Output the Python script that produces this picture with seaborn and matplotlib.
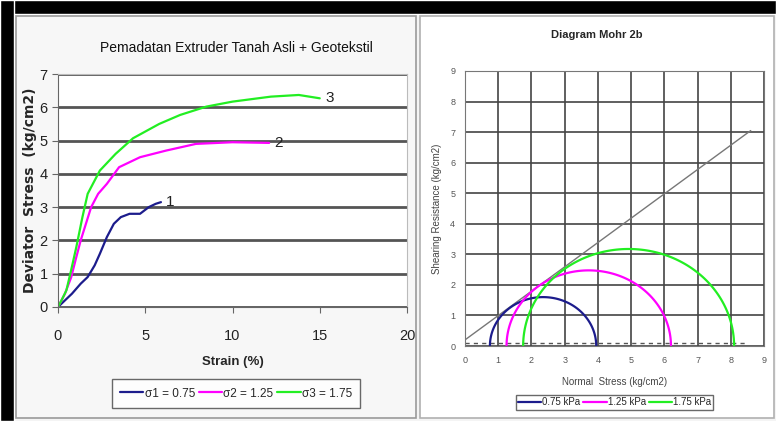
import numpy as np
import pandas as pd
import seaborn as sns
import matplotlib.pyplot as plt
from matplotlib.patches import Rectangle

# ---------------- data: left chart (stress-strain) ----------------
strain_1 = [0, 0.3, 0.8, 1.3, 1.7, 2.1, 2.4, 2.8, 3.2, 3.6, 4.1, 4.7, 5.2, 5.6, 5.9]
stress_1 = [0, 0.15, 0.4, 0.7, 0.9, 1.25, 1.6, 2.1, 2.5, 2.7, 2.8, 2.8, 3.0, 3.1, 3.15]

strain_2 = [0, 0.4, 0.76, 1.0, 1.3, 1.6, 1.9, 2.3, 2.8, 3.5, 4.7, 6.2, 7.9, 10.0, 12.1]
stress_2 = [0, 0.4, 0.9, 1.4, 2.0, 2.5, 3.0, 3.4, 3.7, 4.2, 4.5, 4.7, 4.9, 4.95, 4.93]

strain_3 = [0, 0.2, 0.48, 0.75, 1.05, 1.4, 1.7, 2.4, 3.3, 4.3, 5.8, 7.0, 8.5, 10.0, 12.2, 13.8, 15.0]
stress_3 = [0, 0.2, 0.5, 1.1, 1.8, 2.7, 3.4, 4.1, 4.6, 5.07, 5.5, 5.77, 6.02, 6.17, 6.32, 6.37, 6.27]

curve_names = ["σ1 = 0.75", "σ2 = 1.25", "σ3 = 1.75"]
curve_tags = ["1", "2", "3"]

# ---------------- data: right chart (Mohr circles) ----------------
sigma3 = [0.75, 1.25, 1.75]
sigma1 = [3.95, 6.2, 8.1]
circle_names = ["0.75 kPa", "1.25 kPa", "1.75 kPa"]
envelope_x = [0, 8.6]
envelope_y = [0.2, 7.05]
dash_x = [0, 8.5]
dash_y = [0.1, 0.1]

colors = ["#1c1c8c", "#ff00ff", "#22ee22"]

sns.set_style("white")
plt.rcParams['font.family'] = ['Liberation Sans Narrow', 'Liberation Sans', 'DejaVu Sans']

W, H = 776, 421
fig = plt.figure(figsize=(W / 100, H / 100), dpi=100)
fig.patch.set_facecolor("#f4f4f4")


def px(x0, y0, x1, y1):
    # pixel box -> figure fraction
    return [x0 / W, 1 - y1 / H, (x1 - x0) / W, (y1 - y0) / H]


# frame pieces (behind the axes)
fig.patches.append(Rectangle((0, 1 - 14 / H), 1, 14 / H, transform=fig.transFigure,
                             facecolor="black", zorder=-2))
fig.patches.append(Rectangle((0, 0), 14 / W, 1, transform=fig.transFigure,
                             facecolor="black", zorder=-2))
fig.patches.append(Rectangle((16 / W, 3 / H), 400 / W, 402 / H, transform=fig.transFigure,
                             facecolor="#f7f7f7", edgecolor="#9a9a9a", lw=1.2, zorder=-2))
fig.patches.append(Rectangle((420 / W, 3 / H), 354 / W, 402 / H, transform=fig.transFigure,
                             facecolor="white", edgecolor="#b0b0b0", lw=1.2, zorder=-2))

# ---------------- left chart ----------------
ax1 = fig.add_axes(px(58, 74, 407, 307))
ax1.set_facecolor("white")
rows = []
for xs, ys, nm in zip([strain_1, strain_2, strain_3], [stress_1, stress_2, stress_3], curve_names):
    rows.append(pd.DataFrame({"strain": xs, "stress": ys, "curve": nm}))
df = pd.concat(rows, ignore_index=True)
sns.lineplot(data=df, x="strain", y="stress", hue="curve", palette=colors,
             sort=False, estimator=None, lw=1.6, ax=ax1)
for xs, ys, tag in zip([strain_1, strain_2, strain_3], [stress_1, stress_2, stress_3], curve_tags):
    ax1.text(xs[-1] + 0.3, ys[-1], tag, fontsize=11, va="center", ha="left", color="#222222")

ax1.set_xlim(0, 20)
ax1.set_ylim(0, 7)
ax1.set_xticks([0, 5, 10, 15, 20])
ax1.set_yticks(range(8))
ax1.yaxis.grid(True, color="#555555", lw=2)
ax1.xaxis.grid(False)
for s in ["left", "bottom"]:
    ax1.spines[s].set_color("#666666")
for s in ["top", "right"]:
    ax1.spines[s].set_color("#bbbbbb")
ax1.tick_params(axis="both", which="both", length=4, color="#666666", labelsize=10.5,
                labelcolor="#222222", direction="out", bottom=True, left=True)
ax1.tick_params(axis="x", pad=12)
ax1.set_xlabel("Strain (%)", fontsize=9.5, fontweight="bold", labelpad=9)
ax1.set_ylabel("Deviator  Stress  (kg/cm2)", fontsize=10, fontweight="bold",
               family=["DejaVu Sans"], labelpad=2)
ax1.set_title("Pemadatan Extruder Tanah Asli + Geotekstil", fontsize=10, pad=16, x=0.51,
              color="#111111")
ax1.legend(loc="upper center", bbox_to_anchor=(0.51, -0.285), ncol=3, fontsize=8.5,
           frameon=True, fancybox=False, edgecolor="#444444", handlelength=2.0,
           handletextpad=0.1, columnspacing=0.3, borderpad=0.7)

# ---------------- right chart ----------------
ax2 = fig.add_axes(px(465, 71, 764, 346))
ax2.set_facecolor("white")
sns.lineplot(x=envelope_x, y=envelope_y, color="#777777", lw=1.0, ax=ax2)
sns.lineplot(x=dash_x, y=dash_y, color="#555555", lw=1.0, linestyle=(0, (3, 3)), ax=ax2)
theta = np.linspace(np.pi, 0, 120)
for s3, s1, nm, c in zip(sigma3, sigma1, circle_names, colors):
    cen = (s1 + s3) / 2
    rad = (s1 - s3) / 2
    sns.lineplot(x=cen + rad * np.cos(theta), y=rad * np.sin(theta), sort=False,
                 color=c, lw=1.6, label=nm, ax=ax2)
ax2.set_xlim(0, 9)
ax2.set_ylim(0, 9)
ax2.set_xticks(range(10))
ax2.set_yticks(range(10))
ax2.grid(True, color="#444444", lw=1.2)
for s in ax2.spines.values():
    s.set_color("#777777")
ax2.tick_params(axis="both", length=0, labelsize=6.5, labelcolor="#555555", pad=7)
ax2.set_xlabel("Normal  Stress (kg/cm2)", fontsize=7, color="#444444",
               family=["Liberation Sans", "DejaVu Sans"], labelpad=9)
ax2.set_ylabel("Shearing Resistance (kg/cm2)", fontsize=7, color="#444444",
               family=["Liberation Sans", "DejaVu Sans"], labelpad=6)
ax2.set_title("Diagram Mohr 2b", fontsize=8, fontweight="bold", pad=24, x=0.44,
              family=["Liberation Sans", "DejaVu Sans"])
handles, labels = ax2.get_legend_handles_labels()
ax2.legend(handles[-3:], labels[-3:], loc="upper center", bbox_to_anchor=(0.5, -0.16),
           ncol=3, prop={"family": ["Liberation Sans", "DejaVu Sans"], "size": 7},
           frameon=True, fancybox=False, edgecolor="#444444", handlelength=2.4,
           handletextpad=0.1, columnspacing=0.3, borderpad=0.25)

fig.savefig("out.png", dpi=100)
